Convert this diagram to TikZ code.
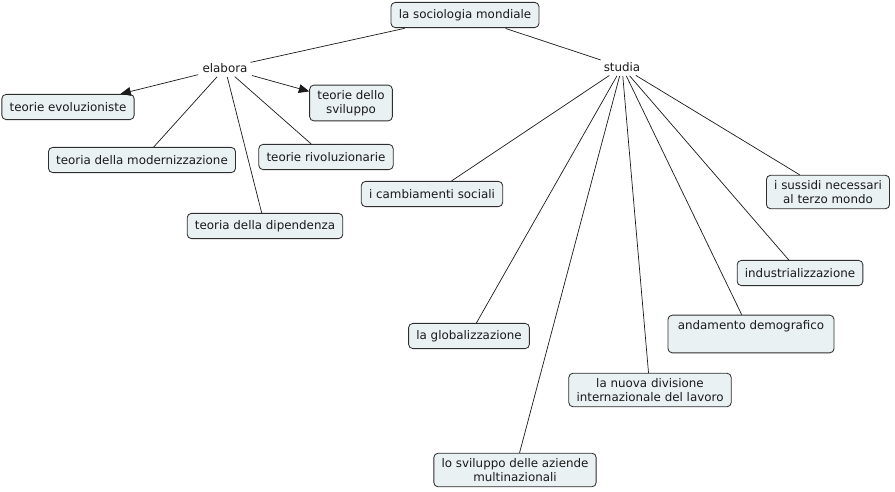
\documentclass[tikz,border=0pt]{standalone}
\usepackage{fontspec}
\setmainfont{DejaVu Sans}
\usetikzlibrary{arrows.meta}
\definecolor{ink}{HTML}{1A1A1A}
\definecolor{conceptfill}{HTML}{EAF1F3}
\definecolor{conceptline}{HTML}{2E2E2E}
\newcommand{\mapfont}{\fontsize{8.45}{10.3}\selectfont}
\tikzset{
 every node/.append style={font=\mapfont,text=ink,align=center},
 concept/.style={draw=conceptline,fill=conceptfill,rounded corners=3pt,line width=.6pt,inner xsep=5.5pt,inner ysep=3.5pt,minimum height=6.3mm},
 linkword/.style={inner sep=2pt},
 tie/.style={draw=ink,line width=.5pt,shorten <=1pt},
 pointer/.style={tie,-{Triangle[length=2.6mm,width=2.2mm]}},
}
\begin{document}
\begin{tikzpicture}

\useasboundingbox (0,0) rectangle (22.375,-12.3);
\node[concept] (root) at (11.625,-.375) {la sociologia mondiale};
\node[linkword] (elabora) at (5.625,-1.7) {elabora};
\node[linkword] (studia) at (15.55,-1.675) {studia};
\node[concept] (evol) at (1.7,-2.675) {teorie evoluzioniste};
\node[concept,minimum width=20.5mm] (svil) at (8.775,-2.575) {teorie dello\\sviluppo};
\node[concept] (modern) at (3.55,-4.0) {teoria della modernizzazione};
\node[concept] (rivol) at (8.15,-3.925) {teorie rivoluzionarie};
\node[concept] (dipend) at (6.625,-5.65) {teoria della dipendenza};
\node[concept] (cambi) at (10.8,-4.85) {i cambiamenti sociali};
\node[concept] (sussidi) at (20.7,-4.8) {i sussidi necessari\\al terzo mondo};
\node[concept] (indust) at (20.0,-6.825) {industrializzazione};
\node[concept,minimum width=41.5mm] (demog) at (18.775,-8.35) {andamento demografico\\\strut};
\node[concept] (glob) at (11.725,-8.4) {la globalizzazione};
\node[concept] (nuova) at (16.25,-9.75) {la nuova divisione\\internazionale del lavoro};
\node[concept] (multi) at (12.875,-11.75) {lo sviluppo delle aziende\\multinazionali};
\draw[tie] (root) -- (elabora); \draw[tie] (root) -- (studia);
\draw[pointer] (elabora) -- (evol); \draw[pointer] (elabora) -- (svil);
\draw[tie] (elabora) -- (modern); \draw[tie] (elabora) -- (dipend); \draw[tie] (elabora) -- (rivol);
\foreach \t in {cambi,glob,multi,nuova,demog,indust,sussidi}
 \draw[tie] (studia) -- (\t);
\end{tikzpicture}
\end{document}
